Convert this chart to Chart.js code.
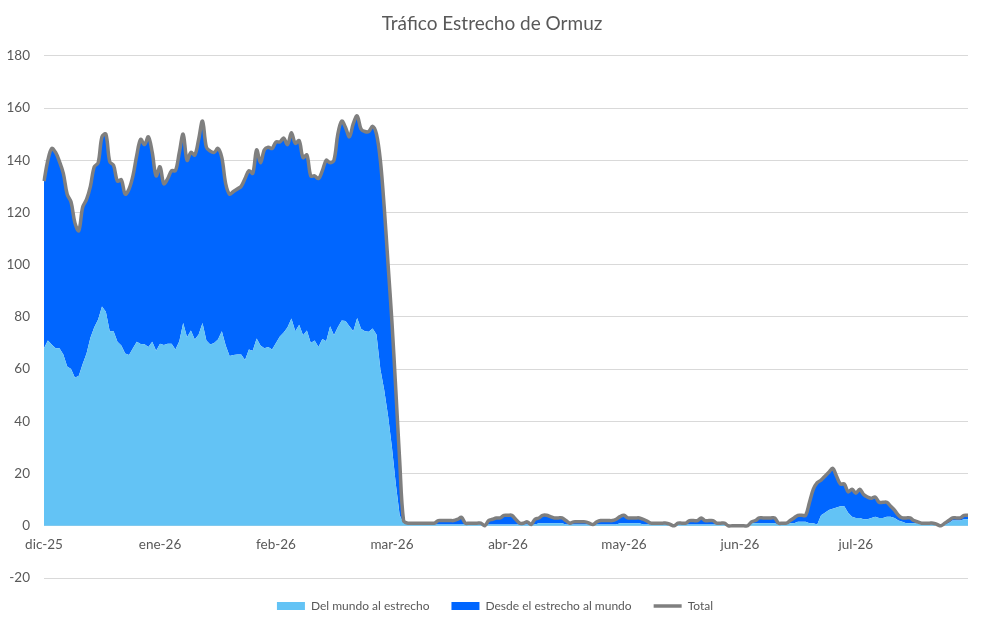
<!DOCTYPE html>
<html lang="es">
<head>
<meta charset="utf-8">
<title>Tráfico Estrecho de Ormuz</title>
<script src="https://cdn.jsdelivr.net/npm/chart.js@4.4.1/dist/chart.umd.min.js"></script>
<style>
    html, body { margin: 0; padding: 0; background: #ffffff; }
    #wrap { width: 985px; height: 628px; position: relative; }
</style>
</head>
<body>
<div id="wrap"><canvas id="ormuzChart"></canvas></div>
<script>
// Month tick labels, one every 30 points
const monthLabels = ['dic-25', 'ene-26', 'feb-26', 'mar-26', 'abr-26', 'may-26', 'jun-26', 'jul-26'];

// Del mundo al estrecho (240 points)
const delMundo = [
    68, 71, 69.4, 68, 68, 65.6, 61, 60, 56.7, 57.5,
    62, 66, 72, 76, 79, 84, 82, 74.5, 74.5, 70.5,
    69, 66, 65.4, 68, 70.5, 69.6, 69.5, 68.5, 70.5, 67,
    69.7, 69.2, 69.7, 69.7, 67.5, 70.7, 77.7, 72.2, 74.8, 71.3,
    73.3, 77.7, 71, 69.4, 70, 71.3, 74.5, 69, 65, 65.4,
    65.6, 65.6, 63.5, 67.5, 67, 71.7, 69, 68, 68.5, 67.5,
    70, 72.5, 74, 76, 79.4, 74.5, 77, 73, 74.8, 70,
    71, 68.5, 71.5, 70.7, 76.4, 73, 76, 78.6, 78.4, 76.4,
    74.5, 79.6, 75.5, 74.5, 74.3, 75.6, 73.3, 60, 52, 42,
    30, 16, 4, 1, 0.5, 0.5, 0.5, 0.5, 0.5, 0.5,
    0.5, 0.5, 0.5, 0.5, 0.5, 0.5, 0.5, 0.5, 0.5, 0.5,
    0.5, 0.5, 0.5, 0.5, 0, 0.5, 0.5, 0.5, 0.5, 0.5,
    0.5, 0.5, 0.5, 0.5, 0.5, 0.5, 0.5, 0.5, 1, 1,
    1, 1, 1, 1, 1, 0.5, 0.5, 0.5, 0.5, 0.5,
    0.5, 0.5, 0.5, 0.5, 0.5, 0.5, 0.5, 0.5, 0.5, 1,
    1, 1, 1, 1, 1, 0.5, 0.5, 0.5, 0.5, 0.5,
    0.5, 0.5, 0.5, 0, 0.5, 0.5, 0.5, 0.5, 0.5, 0.5,
    0.5, 0.5, 0.5, 0.5, 0.5, 0.5, 0.5, 0, 0, 0,
    0, 0, 0, 1, 1, 1, 1, 1, 1, 1,
    0.5, 0.5, 0.5, 1, 1, 1.5, 1.5, 1.5, 1, 1,
    0.5, 4, 5, 6, 6.5, 7, 7.5, 7.5, 5, 3.5,
    3, 3, 2.5, 2.5, 3, 3.5, 3, 3, 3.5, 3.5,
    3, 2, 1.5, 1, 1, 1, 1, 0.5, 0.5, 0.5,
    0.5, 0.5, 0, 0.5, 1, 2, 2, 2, 2.5, 2.5
];

// Desde el estrecho al mundo (240 points)
const desdeEstrecho = [
    64, 69, 75.1, 75, 71.5, 69.4, 66, 64, 59.3, 55.5,
    60, 59, 58, 61.5, 60, 65, 68, 65, 63.5, 61.5,
    63.5, 61, 63.6, 66, 71.5, 78.4, 76.5, 80.5, 72.5, 67,
    67.8, 61.8, 63.3, 66.3, 68.5, 72.3, 72.3, 67.8, 68.2, 70.7,
    74.7, 77.3, 74, 74.1, 73, 73.2, 66.5, 62, 62, 62.6,
    63.4, 64.4, 69.5, 68.5, 68, 72.3, 70, 76, 76.5, 77,
    77, 74.5, 74.5, 70, 71.1, 72, 70.5, 68, 67.2, 64,
    63, 64.5, 64.5, 69.3, 62.6, 67, 74, 76.4, 74.1, 72.6,
    79.5, 77.4, 76.5, 76.5, 76.7, 77.4, 76.7, 80, 70, 58,
    48, 36, 21, 1, 0.5, 0.5, 0.5, 0.5, 0.5, 0.5,
    0.5, 0.5, 1.5, 1.5, 1.5, 1.5, 1.5, 2, 2.7, 0.5,
    0.5, 0.5, 0.5, 0.5, 0, 1.5, 2, 2.5, 2.5, 3.5,
    3.5, 3.5, 2, 0.5, 0.5, 1, 0, 2, 2, 3,
    3, 2.5, 2, 2, 2, 1.5, 0.5, 1, 1, 1,
    1, 0.5, 0, 1, 1.5, 1.5, 1.5, 1.5, 2, 2.5,
    3, 2, 2, 2, 2, 2, 1.3, 0.5, 0.5, 0.5,
    0.5, 0.5, 0, 0, 0.5, 0.5, 0.5, 1.5, 1.5, 1.5,
    2.5, 1.5, 1.5, 1.5, 0.5, 0.5, 0.5, 0, 0, 0,
    0, 0, 0, 0.5, 1, 2, 2, 2, 2, 2,
    0.5, 0.5, 0.5, 1, 2, 2.5, 2.5, 2.5, 8, 13,
    16, 13.5, 14, 14.5, 15.5, 12, 8.5, 8.5, 8, 10.5,
    9.5, 11, 9.5, 8.5, 7.5, 7.5, 6, 6, 5.5, 4,
    3, 2, 1.5, 2, 2, 1, 0.5, 0.5, 0.5, 0.5,
    0.5, 0, 0, 0.5, 1, 1, 1, 1, 1.5, 1.5
];

// Total = both directions added together
const total = delMundo.map((v, i) => +(v + desdeEstrecho[i]).toFixed(1));
const pointLabels = delMundo.map((v, i) => i);

const textColor = '#595959';
const gridColor = '#d9d9d9';
const baseFont = "Lato, 'Noto Sans', 'Liberation Sans', sans-serif";

Chart.defaults.font.family = baseFont;
Chart.defaults.color = textColor;

// Centre title and legend on the whole canvas like the original, not on the padded box
const centreBlocks = {
    id: 'centreBlocks',
    afterLayout(chart) {
        [[chart.titleBlock, 8], [chart.legend, 11]].forEach(([box, shift]) => {
            if (!box) return;
            box.left += shift;
            box.right += shift;
        });
    }
};

new Chart(document.getElementById('ormuzChart'), {
    type: 'line',
    data: {
        labels: pointLabels,
        datasets: [
            {
                label: 'Del mundo al estrecho',
                data: delMundo,
                backgroundColor: '#63c3f5',
                borderColor: '#63c3f5',
                borderWidth: 0,
                fill: 'origin',
                stack: 'areas',
                order: 1,
                tension: 0,
                pointRadius: 0,
                pointStyle: 'rect'
            },
            {
                label: 'Desde el estrecho al mundo',
                data: desdeEstrecho,
                backgroundColor: '#0066ff',
                borderColor: '#0066ff',
                borderWidth: 0,
                fill: '-1',
                stack: 'areas',
                order: 2,
                tension: 0,
                pointRadius: 0,
                pointStyle: 'rect'
            },
            {
                label: 'Total',
                data: total,
                borderColor: '#7f7f7f',
                backgroundColor: '#7f7f7f',
                borderWidth: 3.5,
                fill: false,
                stack: 'total',
                order: 0,
                tension: 0.35,
                pointRadius: 0,
                pointStyle: 'line'
            }
        ]
    },
    plugins: [centreBlocks],
    options: {
        responsive: true,
        maintainAspectRatio: false,
        animation: false,
        layout: {
            padding: { left: 0, right: 17, top: 4, bottom: 6 }
        },
        plugins: {
            title: {
                display: true,
                text: 'Tráfico Estrecho de Ormuz',
                color: textColor,
                font: { size: 19, weight: 'normal' },
                padding: { top: 8, bottom: 21 }
            },
            legend: {
                position: 'bottom',
                labels: {
                    usePointStyle: true,
                    pointStyleWidth: 28,
                    boxHeight: 8,
                    padding: 22,
                    color: textColor,
                    font: { size: 12 },
                    sort: (a, b) => a.datasetIndex - b.datasetIndex
                }
            },
            tooltip: { enabled: false }
        },
        scales: {
            x: {
                type: 'category',
                position: { y: 0 },
                grid: { display: false },
                border: { display: false },
                ticks: {
                    autoSkip: false,
                    maxRotation: 0,
                    minRotation: 0,
                    padding: 3,
                    color: textColor,
                    font: { size: 13.5 },
                    callback: (value, index) => index % 30 === 0 ? monthLabels[index / 30] : ''
                }
            },
            y: {
                stacked: true,
                min: -20,
                max: 180,
                afterFit: (scale) => { scale.width = 44; },
                ticks: {
                    stepSize: 20,
                    padding: 14,
                    color: textColor,
                    font: { size: 13.5 }
                },
                grid: {
                    color: gridColor,
                    drawTicks: false
                },
                border: { display: false }
            }
        }
    }
});
</script>
</body>
</html>
